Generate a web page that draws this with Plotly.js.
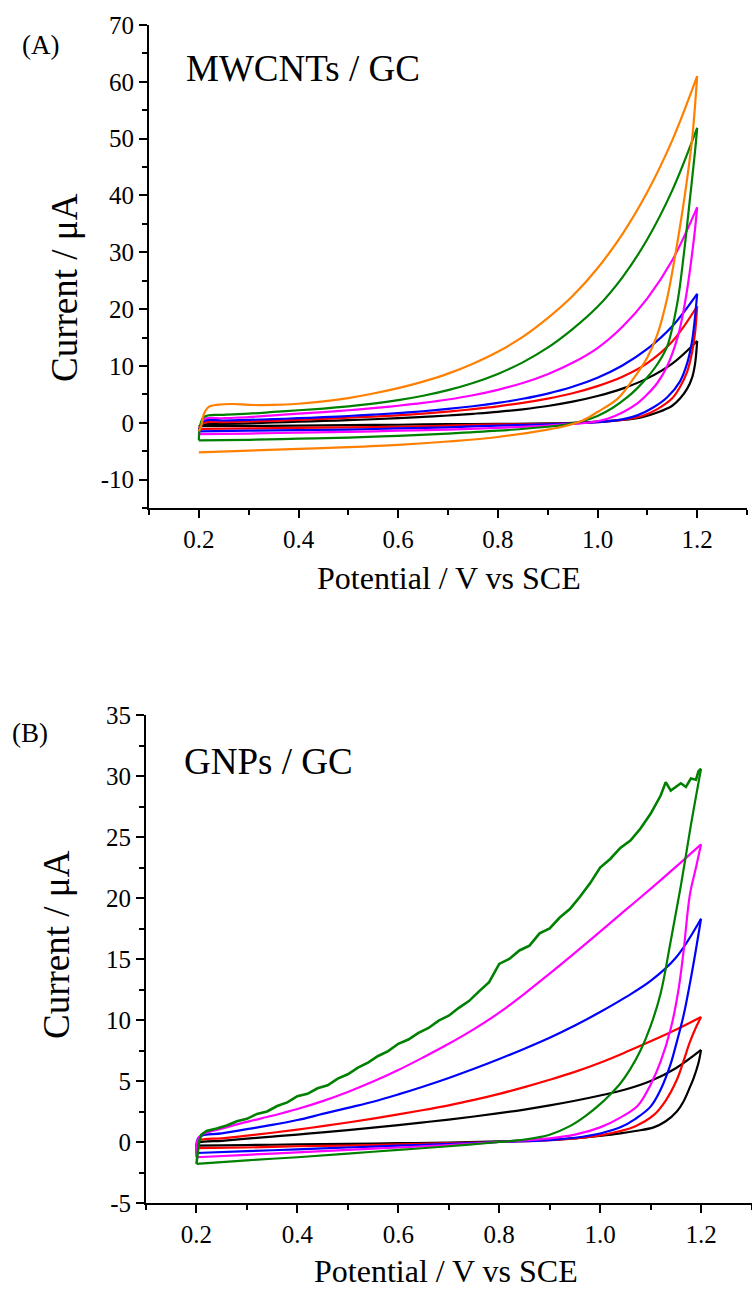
<!DOCTYPE html>
<html>
<head>
<meta charset="utf-8">
<script src="https://cdn.plot.ly/plotly-3.0.1.min.js"></script>
<style>
html,body{margin:0;padding:0;background:#fff;}
#chart{width:752px;height:1291px;}
</style>
</head>
<body>
<div id="chart"></div>
<script>
// ---------- Panel (A) MWCNTs / GC : forward (upper) and reverse (lower) branches ----------
const aUpX = [0.2,0.21,0.25,0.3,0.35,0.4,0.45,0.5,0.55,0.6,0.65,0.7,0.75,0.8,0.85,0.9,0.95,1.0,1.05,1.1,1.15,1.2];
const aBlackUpY = [-0.6,-0.3,-0.2,-0.1,0.05,0.2,0.32,0.46,0.62,0.8,1.02,1.28,1.58,1.92,2.37,2.95,3.71,4.71,6.01,7.81,10.41,14.4];
const aRedUpY   = [-1.1,0.0,0.1,0.22,0.35,0.5,0.68,0.88,1.08,1.3,1.6,1.97,2.4,2.9,3.5,4.25,5.2,6.45,8.1,10.5,14.3,20.5];
const aBlueUpY  = [-1.5,0.3,0.4,0.5,0.64,0.8,0.98,1.19,1.43,1.7,2.03,2.43,2.91,3.5,4.22,5.14,6.34,7.94,10.09,12.99,16.99,22.7];
const aMagUpY   = [-2.0,0.6,0.8,1.0,1.3,1.6,1.88,2.2,2.57,3.0,3.5,4.1,4.85,5.8,7.0,8.55,10.55,13.15,16.9,21.9,28.6,37.9];
const aGreenUpY = [-3.1,1.0,1.4,1.6,1.9,2.2,2.5,2.88,3.36,3.97,4.75,5.74,7.0,8.6,10.63,13.21,16.48,20.4,25.6,32.3,40.9,51.9];

const aOrangeUpX = [0.2,0.205,0.21,0.22,0.24,0.27,0.3,0.35,0.4,0.45,0.5,0.55,0.6,0.65,0.7,0.75,0.8,0.85,0.9,0.95,1.0,1.05,1.1,1.15,1.2];
const aOrangeUpY = [-1.5,-0.5,1.5,2.8,3.2,3.3,3.15,3.15,3.35,3.75,4.35,5.15,6.1,7.25,8.65,10.4,12.5,15.1,18.4,22.3,27.2,33.2,40.6,49.7,61.0];

const aBlackDnX = [1.2,1.196,1.19,1.18,1.166,1.15,1.12,1.09,1.05,1.0,0.95,0.9,0.8,0.7,0.6,0.5,0.4,0.3,0.2];
const aBlackDnY = [14.4,10.5,8.0,6.0,4.3,3.0,1.8,1.0,0.5,0.2,0.0,-0.1,-0.2,-0.25,-0.35,-0.4,-0.5,-0.55,-0.6];
const aRedDnX = [1.2,1.196,1.19,1.18,1.165,1.15,1.12,1.09,1.05,1.0,0.95,0.9,0.8,0.7,0.6,0.5,0.4,0.3,0.2];
const aRedDnY = [20.5,16.0,12.5,9.0,6.2,4.3,2.4,1.2,0.5,0.1,-0.1,-0.2,-0.3,-0.5,-0.7,-0.8,-0.9,-1.0,-1.1];
const aBlueDnX = [1.2,1.195,1.19,1.18,1.165,1.14,1.11,1.08,1.05,1.0,0.95,0.9,0.8,0.7,0.6,0.5,0.4,0.3,0.2];
const aBlueDnY = [22.7,18.0,14.5,10.5,7.2,4.5,2.6,1.3,0.6,0.1,-0.1,-0.3,-0.5,-0.8,-1.0,-1.2,-1.3,-1.4,-1.5];
const aMagDnX = [1.2,1.195,1.188,1.18,1.17,1.16,1.14,1.12,1.1,1.08,1.05,1.02,0.98,0.93,0.9,0.8,0.7,0.6,0.5,0.4,0.3,0.2];
const aMagDnY = [37.9,33.5,28.5,23.5,18.5,14.8,10.0,7.0,5.0,3.4,1.8,0.7,0.0,-0.3,-0.5,-0.9,-1.2,-1.4,-1.6,-1.75,-1.9,-2.0];
const aGreenDnX = [1.2,1.196,1.185,1.173,1.16,1.14,1.12,1.1,1.08,1.06,1.03,1.0,0.97,0.93,0.9,0.8,0.7,0.6,0.5,0.4,0.3,0.2];
const aGreenDnY = [51.9,48.0,39.0,29.5,21.0,13.5,10.3,8.0,6.1,4.5,2.6,1.2,0.3,-0.4,-0.7,-1.4,-1.9,-2.3,-2.6,-2.8,-3.0,-3.1];
const aOrangeDnX = [1.2,1.195,1.19,1.18,1.17,1.155,1.14,1.12,1.1,1.07,1.04,1.0,0.97,0.93,0.9,0.8,0.7,0.6,0.5,0.4,0.3,0.2];
const aOrangeDnY = [61.0,55.0,50.0,43.0,37.0,29.0,22.0,15.5,11.5,7.5,4.2,1.9,0.4,-0.7,-1.2,-2.5,-3.3,-3.9,-4.3,-4.6,-4.9,-5.2];

// ---------- Panel (B) GNPs / GC ----------
const bUpX = [0.2,0.205,0.25,0.3,0.35,0.4,0.45,0.5,0.55,0.6,0.65,0.7,0.75,0.8,0.85,0.9,0.95,1.0,1.05,1.1,1.15,1.2];
const bBlackUpY = [-0.3,-0.05,0.1,0.27,0.44,0.61,0.79,0.98,1.18,1.39,1.61,1.84,2.09,2.36,2.66,3.0,3.38,3.81,4.3,5.0,6.05,7.55];
const bRedUpY   = [-0.5,0.1,0.3,0.52,0.76,1.02,1.3,1.6,1.92,2.26,2.62,3.0,3.45,3.95,4.5,5.1,5.75,6.5,7.35,8.25,9.2,10.25];
const bBlueUpY  = [-0.9,0.4,0.7,1.05,1.4,1.8,2.3,2.8,3.3,3.9,4.55,5.25,6.0,6.8,7.65,8.55,9.55,10.65,11.85,13.2,15.1,18.3];
const bMagUpY   = [-1.25,0.4,1.1,1.65,2.15,2.7,3.35,4.1,4.95,5.9,6.95,8.05,9.25,10.6,12.15,13.8,15.5,17.25,19.0,20.75,22.55,24.4];

const bGreenUpX = [0.2,0.205,0.21,0.22,0.24,0.26,0.28,0.30,0.32,0.34,0.36,0.38,0.40,0.42,0.44,0.46,0.48,0.50,
  0.52,0.54,0.56,0.58,0.60,0.62,0.64,0.66,0.68,0.70,0.72,0.74,0.76,0.78,0.80,0.82,0.84,0.86,0.88,0.90,
  0.92,0.94,0.96,0.98,1.00,1.02,1.04,1.06,1.08,1.10,1.12,1.13,1.14,1.15,1.16,1.17,1.18,1.19,1.195,1.2];
const bGreenUpY = [-1.8,0.0,0.6,0.9,1.1,1.35,1.7,1.9,2.3,2.5,2.95,3.25,3.75,3.95,4.4,4.65,5.2,5.55,
  6.1,6.5,7.05,7.45,8.05,8.4,8.95,9.35,9.95,10.35,11.0,11.55,12.35,13.1,14.6,15.0,15.7,16.1,17.1,17.5,
  18.4,19.1,20.1,21.2,22.5,23.2,24.1,24.7,25.7,26.9,28.4,29.5,28.8,29.1,29.4,29.1,29.8,29.7,30.4,30.6];

const bBlackDnX = [1.2,1.195,1.185,1.178,1.165,1.152,1.13,1.106,1.07,1.04,1.0,0.95,0.9,0.8,0.7,0.6,0.5,0.4,0.3,0.2];
const bBlackDnY = [7.55,6.5,5.2,4.5,3.3,2.5,1.7,1.2,0.9,0.7,0.5,0.3,0.2,0.05,-0.05,-0.1,-0.15,-0.2,-0.25,-0.3];
const bRedDnX = [1.2,1.19,1.178,1.165,1.152,1.13,1.106,1.07,1.04,1.0,0.95,0.9,0.8,0.7,0.6,0.5,0.4,0.3,0.2];
const bRedDnY = [10.25,9.4,8.2,6.6,5.1,3.4,2.2,1.3,0.9,0.55,0.3,0.15,0.0,-0.1,-0.2,-0.3,-0.35,-0.45,-0.5];
const bBlueDnX = [1.2,1.19,1.178,1.165,1.15,1.139,1.12,1.1,1.07,1.04,1.0,0.95,0.9,0.8,0.7,0.6,0.5,0.4,0.3,0.2];
const bBlueDnY = [18.3,15.8,13.0,10.3,7.9,6.3,4.3,2.9,1.9,1.2,0.7,0.35,0.15,0.0,-0.15,-0.3,-0.45,-0.6,-0.75,-0.9];
const bMagDnX = [1.2,1.19,1.178,1.165,1.155,1.14,1.12,1.1,1.075,1.04,1.0,0.95,0.9,0.8,0.7,0.6,0.5,0.4,0.3,0.2];
const bMagDnY = [24.4,22.5,20.3,15.5,12.4,9.3,6.6,4.7,3.0,2.0,1.2,0.6,0.3,0.0,-0.25,-0.45,-0.65,-0.85,-1.05,-1.25];
const bGreenDnX = [1.2,1.18,1.16,1.14,1.12,1.1,1.08,1.06,1.04,1.02,1.0,0.97,0.94,0.9,0.85,0.8,0.7,0.6,0.5,0.4,0.3,0.2];
const bGreenDnY = [30.6,26.0,21.0,16.5,12.2,9.5,7.5,6.0,4.8,3.9,3.1,2.1,1.3,0.6,0.2,0.0,-0.35,-0.65,-0.95,-1.25,-1.5,-1.8];

// ---------- axes ----------
const xTickVals = [0.2,0.4,0.6,0.8,1.0,1.2];
const xTickText = ["0.2","0.4","0.6","0.8","1.0","1.2"];
const aYTickVals = [-10,0,10,20,30,40,50,60,70];
const aYTickText = ["-10","0","10","20","30","40","50","60","70"];
const bYTickVals = [-5,0,5,10,15,20,25,30,35];
const bYTickText = ["-5","0","5","10","15","20","25","30","35"];

const COLORS = {black:'#000000', red:'#ff0000', blue:'#0000ff', mag:'#ff00ff', green:'#008000', orange:'#ff8000'};

const W = 752, H = 1291;
const FONT = '"Liberation Serif", "Times New Roman", serif';

function br(x, y, color, xa, ya, opt) {
  const o = opt || {};
  return {x: x, y: y, type: 'scatter', mode: 'lines', xaxis: xa, yaxis: ya,
          line: o.linear ? {color: color, width: o.w || 2.2, shape: 'linear'}
                         : {color: color, width: o.w || 2.2, shape: 'spline', smoothing: 1},
          hoverinfo: 'skip', showlegend: false};
}

const traces = [
  br(aUpX, aBlackUpY, COLORS.black, 'x', 'y'), br(aBlackDnX, aBlackDnY, COLORS.black, 'x', 'y'),
  br(aUpX, aRedUpY, COLORS.red, 'x', 'y'), br(aRedDnX, aRedDnY, COLORS.red, 'x', 'y'),
  br(aUpX, aBlueUpY, COLORS.blue, 'x', 'y'), br(aBlueDnX, aBlueDnY, COLORS.blue, 'x', 'y'),
  br(aUpX, aMagUpY, COLORS.mag, 'x', 'y'), br(aMagDnX, aMagDnY, COLORS.mag, 'x', 'y'),
  br(aUpX, aGreenUpY, COLORS.green, 'x', 'y'), br(aGreenDnX, aGreenDnY, COLORS.green, 'x', 'y'),
  br(aOrangeUpX, aOrangeUpY, COLORS.orange, 'x', 'y'), br(aOrangeDnX, aOrangeDnY, COLORS.orange, 'x', 'y'),

  br(bUpX, bBlackUpY, COLORS.black, 'x2', 'y2'), br(bBlackDnX, bBlackDnY, COLORS.black, 'x2', 'y2'),
  br(bUpX, bRedUpY, COLORS.red, 'x2', 'y2'), br(bRedDnX, bRedDnY, COLORS.red, 'x2', 'y2'),
  br(bUpX, bBlueUpY, COLORS.blue, 'x2', 'y2'), br(bBlueDnX, bBlueDnY, COLORS.blue, 'x2', 'y2'),
  br(bUpX, bMagUpY, COLORS.mag, 'x2', 'y2'), br(bMagDnX, bMagDnY, COLORS.mag, 'x2', 'y2'),
  br(bGreenUpX, bGreenUpY, COLORS.green, 'x2', 'y2', {linear: true, w: 2.6}), br(bGreenDnX, bGreenDnY, COLORS.green, 'x2', 'y2')
];

function axisCommon() {
  return {showline: true, linewidth: 2, linecolor: '#000', ticks: 'outside', ticklen: 8, tickwidth: 2,
          tickcolor: '#000', showgrid: false, zeroline: false, tickmode: 'array',
          tickfont: {family: FONT, size: 25, color: '#000'}, fixedrange: true};
}

const xa1 = Object.assign(axisCommon(), {domain: [149/W, 747/W], range: [0.1, 1.3], anchor: 'y',
  tickvals: xTickVals, ticktext: xTickText,
  minor: {tickmode: 'linear', tick0: 0.1, dtick: 0.1, ticks: 'outside', ticklen: 5, tickwidth: 2, tickcolor: '#000'}});
const ya1 = Object.assign(axisCommon(), {domain: [1 - 508/H, 1 - 25/H], range: [-15, 70], anchor: 'x',
  tickvals: aYTickVals, ticktext: aYTickText,
  minor: {tickmode: 'linear', tick0: -15, dtick: 5, ticks: 'outside', ticklen: 5, tickwidth: 2, tickcolor: '#000'}});
const xa2 = Object.assign(axisCommon(), {domain: [146/W, 751.5/W], range: [0.1, 1.3], anchor: 'y2',
  tickvals: xTickVals, ticktext: xTickText,
  minor: {tickmode: 'linear', tick0: 0.1, dtick: 0.1, ticks: 'outside', ticklen: 5, tickwidth: 2, tickcolor: '#000'}});
const ya2 = Object.assign(axisCommon(), {domain: [1 - 1203/H, 1 - 715/H], range: [-5, 35], anchor: 'x2',
  tickvals: bYTickVals, ticktext: bYTickText,
  minor: {tickmode: 'linear', tick0: -5, dtick: 2.5, ticks: 'outside', ticklen: 5, tickwidth: 2, tickcolor: '#000'}});

function ann(text, px, py, size, opts) {
  return Object.assign({text: text, xref: 'paper', yref: 'paper', x: px / W, y: 1 - py / H,
    showarrow: false, xanchor: 'left', yanchor: 'middle',
    font: {family: FONT, size: size, color: '#000'}}, opts || {});
}

const layout = {
  width: W, height: H, margin: {l: 0, r: 0, t: 0, b: 0},
  paper_bgcolor: '#fff', plot_bgcolor: '#fff', showlegend: false,
  xaxis: xa1, yaxis: ya1, xaxis2: xa2, yaxis2: ya2,
  annotations: [
    ann('(A)', 20, 45, 27),
    ann('MWCNTs / GC', 184, 68, 37),
    ann('Potential / V vs SCE', 449, 578, 32, {xanchor: 'center'}),
    ann('Current / μA', 64, 288, 37, {xanchor: 'center', textangle: -90}),
    ann('(B)', 10, 733, 27),
    ann('GNPs / GC', 182, 761, 37),
    ann('Potential / V vs SCE', 446, 1271, 32, {xanchor: 'center'}),
    ann('Current / μA', 56, 945, 37, {xanchor: 'center', textangle: -90})
  ]
};

Plotly.newPlot('chart', traces, layout, {staticPlot: true, displayModeBar: false});
</script>
</body>
</html>
